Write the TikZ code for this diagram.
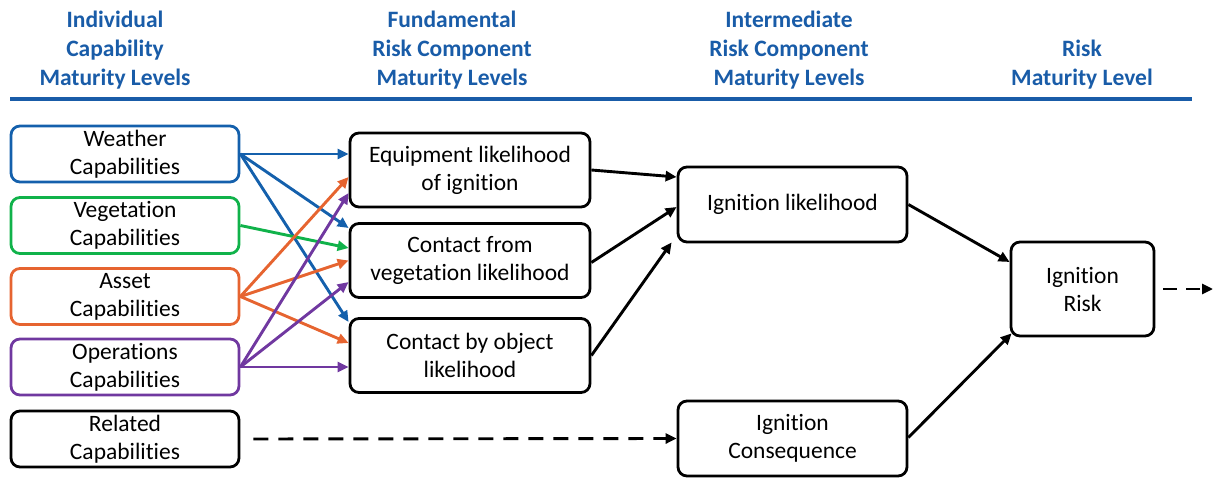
\documentclass[tikz,border=0pt]{standalone}
\usepackage{fontspec}
\setmainfont[Ligatures={NoCommon,NoContextual}]{Carlito}
\usetikzlibrary{arrows.meta}
\definecolor{hdrblue}{RGB}{25,92,168}
\definecolor{cblue}{RGB}{20,96,172}
\definecolor{cgreen}{RGB}{16,178,74}
\definecolor{corange}{RGB}{230,100,48}
\definecolor{cpurple}{RGB}{112,56,160}
\tikzset{
  box/.style={draw, line width=2.8pt, rounded corners=9pt, align=center,
    font=\fontsize{23.5}{28}\selectfont, inner sep=0pt},
  lbox/.style={box, minimum width=228pt, minimum height=56pt},
  mbox/.style={box, minimum width=240pt, minimum height=74pt},
  hdr/.style={align=center, text=hdrblue, font=\fontsize{23.5}{29}\selectfont\bfseries},
  arr/.style={line width=2.9pt, -{Triangle[length=11pt,width=10pt]}},
}
\begin{document}
\begin{tikzpicture}[x=1pt,y=-1pt]
\useasboundingbox (0,0) rectangle (1222,481);
% headers
\node[hdr] (h1) at (115,50) {Individual\\Capability\\Maturity Levels};
\node[hdr] (h2) at (452,50) {Fundamental\\Risk Component\\Maturity Levels};
\node[hdr] (h3) at (789,50) {Intermediate\\Risk Component\\Maturity Levels};
\node[hdr] (h4) at (1082,64.5) {Risk\\Maturity Level};
\coordinate (hl1) at (10,99);
\coordinate (hl2) at (1192,99);
\draw[hdrblue, line width=3.5pt] (hl1) -- (hl2);
% left boxes
\node[lbox, draw=cblue] (w) at (125,154) {Weather\\Capabilities};
\node[lbox, draw=cgreen] (v) at (125,225.5) {Vegetation\\Capabilities};
\node[lbox, draw=corange] (a) at (125,296.5) {Asset\\Capabilities};
\node[lbox, draw=cpurple] (o) at (125,367) {Operations\\Capabilities};
\node[lbox] (r) at (125,439) {Related\\Capabilities};
% middle boxes
\node[mbox] (eq) at (470,170) {Equipment likelihood\\of ignition};
\node[mbox] (cv) at (470,260.5) {Contact from\\vegetation likelihood};
\node[mbox] (co) at (470,355.5) {Contact by object\\likelihood};
% intermediate
\node[box, minimum width=229pt, minimum height=75pt] (il) at (792.5,204.5) {Ignition likelihood};
\node[box, minimum width=229pt, minimum height=75pt] (ic) at (792.5,438.5) {Ignition\\Consequence};
\node[box, minimum width=143pt, minimum height=94pt] (ir) at (1082.5,289) {Ignition\\Risk};
% coloured arrows
\draw[arr, cblue] (w.east) -- ([yshift=16pt]eq.west);
\draw[arr, cblue] (w.east) -- ([yshift=32.5pt]cv.west);
\draw[arr, cblue] (w.east) -- ([yshift=33.5pt]co.west);
\draw[arr, cgreen] (v.east) -- ([yshift=12.5pt]cv.west);
\draw[arr, corange] (a.east) -- ([yshift=-7pt]eq.west);
\draw[arr, corange] (a.east) -- ([yshift=0pt]cv.west);
\draw[arr, corange] (a.east) -- ([yshift=12.5pt]co.west);
\draw[arr, cpurple] (o.east) -- ([yshift=-23pt]eq.west);
\draw[arr, cpurple] (o.east) -- ([yshift=-21.5pt]cv.west);
\draw[arr, cpurple] (o.east) -- ([yshift=-11.5pt]co.west);
% black arrows
\draw[arr] (eq.east) -- ([yshift=27.5pt]il.west);
\draw[arr] ([yshift=-2pt]cv.east) -- ([yshift=-2.5pt]il.west);
\draw[arr] ([yshift=0pt]co.east) -- ([xshift=-5pt,yshift=1pt]il.south west);
\draw[arr] ([yshift=0pt]il.east) -- ([yshift=27pt]ir.west);
\draw[arr] ([yshift=1pt]ic.east) -- ([xshift=2pt,yshift=4pt]ir.south west);
\draw[arr, dash pattern=on 15pt off 10pt, shorten <=13pt] (r.east) -- ([yshift=0pt]ic.west);
\coordinate (out) at (1213,289);
\draw[arr, dash pattern=on 14pt off 9pt, shorten <=8pt] (ir.east) -- (out);
\end{tikzpicture}
\end{document}
